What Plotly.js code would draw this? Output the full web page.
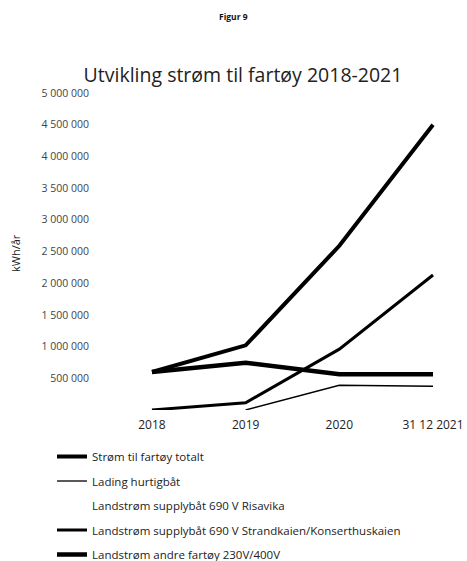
<!DOCTYPE html>
<html><head><meta charset="utf-8">
<script src="https://cdn.plot.ly/plotly-3.0.1.min.js"></script>
<style>html,body{margin:0;padding:0;background:#fff}#c{width:467px;height:561px}</style>
</head><body><div id="c"></div>
<script>
const categories = ["2018", "2019", "2020", "31 12 2021"];
const totalt = [600000, 1020000, 2590000, 4500000];
const ladingHurtigbat = [null, 0, 390000, 375000];
const risavika = [null, null, null, null];
const strandkaien = [0, 115000, 960000, 2130000];
const andreFartoy = [600000, 745000, 565000, 565000];
const seriesNames = [
  "Strøm til fartøy totalt",
  "Lading hurtigbåt",
  "Landstrøm supplybåt 690 V Risavika",
  "Landstrøm supplybåt 690 V Strandkaien/Konserthuskaien",
  "Landstrøm andre fartøy 230V/400V"
];
const yTicks = [500000,1000000,1500000,2000000,2500000,3000000,3500000,4000000,4500000,5000000];

const font = "Open Sans, sans-serif";
function tr(y, name, w, color, g){
  return {x: categories, y: y, name: name, type: "scatter", mode: "lines",
    line: {color: color, width: w}, legendgroup: g, connectgaps: false};
}
const data = [
  tr(totalt, seriesNames[0], 4, "#000", "a"),
  tr(ladingHurtigbat, seriesNames[1], 1.3, "#000", "b"),
  tr(risavika, seriesNames[2], 0, "rgba(0,0,0,0)", "c"),
  tr(strandkaien, seriesNames[3], 3, "#000", "d"),
  tr(andreFartoy, seriesNames[4], 4.5, "#000", "e")
];
const PL = 110, PW = 347, PB = 410, PH = 317;
const layout = {
  width: 467, height: 561,
  margin: {l: 110, r: 10, t: 93, b: 151, autoexpand: false},
  paper_bgcolor: "#fff", plot_bgcolor: "#fff",
  separators: ", ",
  font: {family: font, color: "#222", size: 9},
  title: {text: "Utvikling strøm til fartøy 2018-2021", font: {family: font, size: 19.5, color: "#222"},
    x: 243/467, xanchor: "center", xref: "container", y: 1 - 75/561, yanchor: "middle", yref: "container"},
  xaxis: {type: "category", range: [-0.448, 3.256], showgrid: false, zeroline: false, showline: false,
    automargin: false, tickangle: 0,
    ticks: "", tickfont: {family: font, size: 12, color: "#222"}, ticklabelstandoff: 6, fixedrange: true},
  yaxis: {range: [0, 5000000], tickvals: yTicks, tickformat: ",d", showgrid: false, zeroline: false,
    automargin: false,
    showline: false, ticks: "", ticklabelstandoff: 20, tickfont: {family: font, size: 10.5, color: "#444"}},
  showlegend: true,
  legend: {xref: "container", yref: "container", x: 52/467, y: 1 - 442/561, xanchor: "left", yanchor: "top",
    traceorder: "grouped", tracegroupgap: 5.5, font: {family: font, size: 11.5, color: "#222"},
    itemwidth: 30, bgcolor: "rgba(0,0,0,0)"},
  annotations: [
    {text: "<b>Figur 9</b>", xref: "paper", yref: "paper", x: (233-PL)/PW, y: (PB-17)/PH,
     showarrow: false, font: {family: font, size: 8.5, color: "#111"}, xanchor: "center", yanchor: "middle"},
    {text: "kWh/år", xref: "paper", yref: "paper", x: (15-PL)/PW, y: (PB-253)/PH, textangle: -90,
     showarrow: false, font: {family: font, size: 11, color: "#222"}, xanchor: "center", yanchor: "middle"}
  ]
};
Plotly.newPlot("c", data, layout, {staticPlot: true});
</script></body></html>
